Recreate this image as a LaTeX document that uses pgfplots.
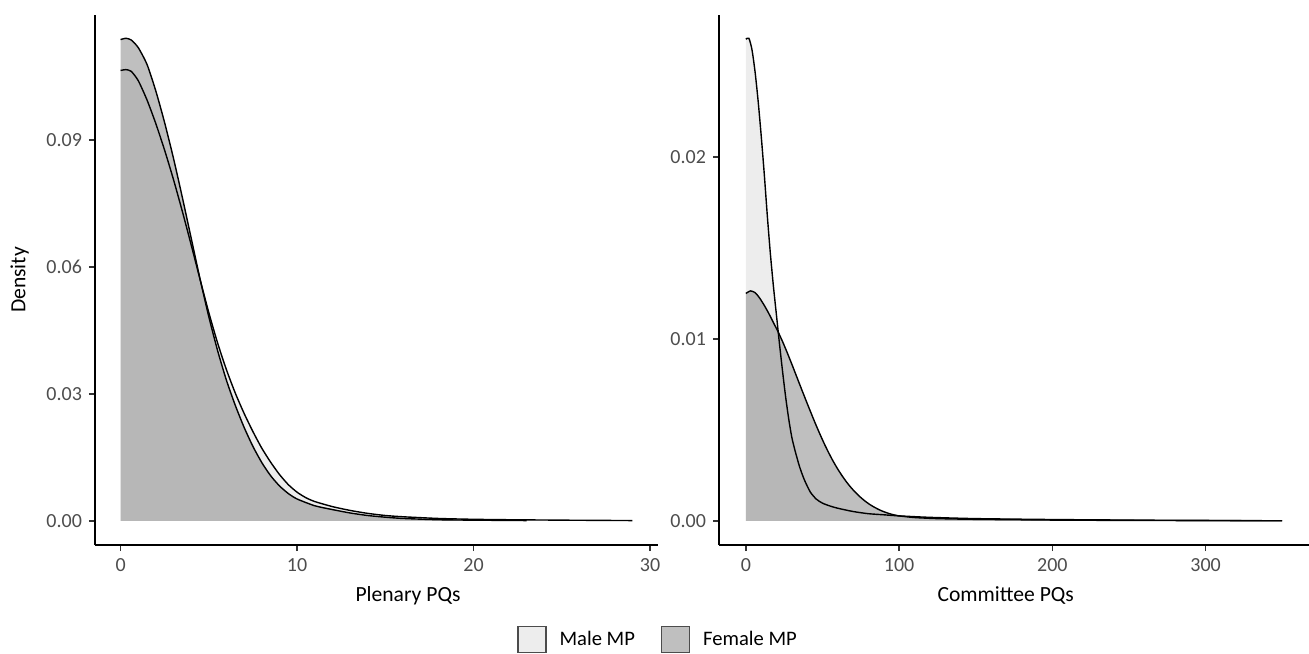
\documentclass[border=0pt]{standalone}
\usepackage{fontspec}
\setmainfont{Carlito}
\usepackage{pgfplots}
\usepackage{pgfplotstable}
\pgfplotsset{compat=1.18}

\definecolor{malefill}{HTML}{EDEDED}
\definecolor{femfill}{HTML}{919191}
\definecolor{ticktext}{HTML}{4D4D4D}

% density estimates
\pgfplotstableread{
x y
0 0.1064
0.3 0.1066
0.6 0.1062
1.0 0.1040
1.5 0.0994
2.0 0.0938
2.5 0.0875
3.0 0.0806
3.5 0.0731
4.0 0.0652
4.5 0.0571
5.0 0.0492
5.5 0.0420
6.0 0.0357
6.5 0.0302
7.0 0.0254
7.5 0.0211
8.0 0.0172
8.5 0.0139
9.0 0.0110
9.5 0.0086
10 0.0068
10.5 0.0055
11 0.0046
12 0.0034
13 0.0025
14 0.0018
15 0.0013
16 0.0010
18 0.0006
20 0.0004
22 0.0003
25 0.0002
29 0.0001
}\malePlen

\pgfplotstableread{
x y
0 0.1137
0.3 0.1140
0.6 0.1136
1.0 0.1118
1.5 0.1078
2.0 0.1015
2.5 0.0940
3.0 0.0856
3.5 0.0764
4.0 0.0668
4.5 0.0572
5.0 0.0482
5.5 0.0402
6.0 0.0332
6.5 0.0273
7.0 0.0221
7.5 0.0176
8.0 0.0138
8.5 0.0107
9.0 0.0083
9.5 0.0065
10 0.0052
11 0.0036
12 0.0027
13 0.0019
14 0.0013
15 0.0009
16 0.0006
18 0.0003
20 0.0002
23 0.0001
}\femPlen

\pgfplotstableread{
x y
0 0.02647
2 0.02652
4 0.0259
6 0.0247
8 0.0231
10 0.0212
12 0.0191
14 0.0168
16 0.0147
18 0.0129
20 0.0113
22 0.0097
24 0.0082
26 0.0068
28 0.0056
30 0.0046
32 0.0039
35 0.0030
38 0.0023
42 0.0016
46 0.0012
50 0.00098
55 0.00082
60 0.0007
70 0.00052
80 0.0004
90 0.00034
100 0.00028
120 0.0002
150 0.00013
200 0.00008
250 0.00005
300 0.00003
350 0.00001
}\maleComm

\pgfplotstableread{
x y
0 0.01250
3 0.01264
6 0.01255
9 0.01225
12 0.01185
15 0.01140
18 0.01090
21 0.01040
24 0.00985
27 0.00925
30 0.00862
33 0.00797
36 0.00732
39 0.00668
42 0.00605
45 0.00543
48 0.00484
51 0.00428
54 0.00376
57 0.00328
60 0.00285
63 0.00246
66 0.00211
69 0.00180
72 0.00153
75 0.00129
78 0.00108
81 0.00090
84 0.00075
87 0.00062
90 0.00051
95 0.00037
100 0.00028
110 0.00019
125 0.00013
150 0.00009
200 0.00005
250 0.00003
300 0.00002
350 0.00001
}\femComm

\pgfplotsset{
  dens/.style={
    scale only axis, height=265pt,
    axis lines=left, axis line style={-, line width=0.8pt},
    tick align=outside, major tick length=3pt,
    tick style={black!80, line width=0.8pt},
    ticklabel style={font=\fontsize{10}{12}\selectfont, text=ticktext},
    /pgf/number format/assume math mode=true,
    label style={font=\fontsize{10.8}{12}\selectfont},
    ylabel shift=2pt,
    scaled ticks=false,
    yticklabel style={/pgf/number format/fixed, /pgf/number format/fixed zerofill, /pgf/number format/precision=2},
  },
  curve/.style={black, line width=0.7pt, smooth, tension=0.4},
  area/.style={draw=none, smooth, tension=0.4},
}

\begin{document}
\begin{tikzpicture}
\useasboundingbox (-47.5pt,-54pt) rectangle (607pt,272.5pt);

\begin{axis}[dens,
  at={(0pt,0pt)}, anchor=south west, width=281.5pt,
  xmin=-1.45, xmax=30.45, ymin=-0.00567, ymax=0.1195,
  xtick={0,10,20,30}, ytick={0,0.03,0.06,0.09},
  xlabel={Plenary PQs}, ylabel={Density},
  xlabel style={at={(axis description cs:0.556,-0.096)}, anchor=center},
  legend style={at={(1.002,-0.179)}, anchor=center, draw=none, fill=none,
    legend columns=2, font=\fontsize{10.3}{12}\selectfont,
    /tikz/every odd column/.append style={column sep=4.5pt},
    /tikz/every even column/.append style={column sep=11pt}},
  legend cell align=left,
]
\addplot[area, fill=malefill, forget plot] table {\malePlen} \closedcycle;
\addplot[area, fill=femfill, fill opacity=0.58, forget plot] table {\femPlen} \closedcycle;
\addplot[curve, forget plot] table {\malePlen};
\addplot[curve, forget plot] table {\femPlen};
\addlegendimage{legend image code/.code={\draw[fill=malefill, draw=black!70, line width=0.6pt] (0pt,-6.5pt) rectangle (14pt,6.5pt);}}
\addlegendentry{Male MP}
\addlegendimage{legend image code/.code={\draw[fill=femfill!58!white, draw=black!70, line width=0.6pt] (0pt,-6.5pt) rectangle (14pt,6.5pt);}}
\addlegendentry{Female MP}
\end{axis}

\begin{axis}[dens,
  at={(312pt,0pt)}, anchor=south west, width=295pt,
  xmin=-17.5, xmax=367.5, ymin=-0.00132, ymax=0.0278,
  xtick={0,100,200,300}, ytick={0,0.01,0.02},
  xlabel={Committee PQs},
  xlabel style={at={(axis description cs:0.486,-0.096)}, anchor=center},
]
\addplot[area, fill=malefill] table {\maleComm} \closedcycle;
\addplot[area, fill=femfill, fill opacity=0.58] table {\femComm} \closedcycle;
\addplot[curve] table {\maleComm};
\addplot[curve] table {\femComm};
\end{axis}
\end{tikzpicture}
\end{document}
